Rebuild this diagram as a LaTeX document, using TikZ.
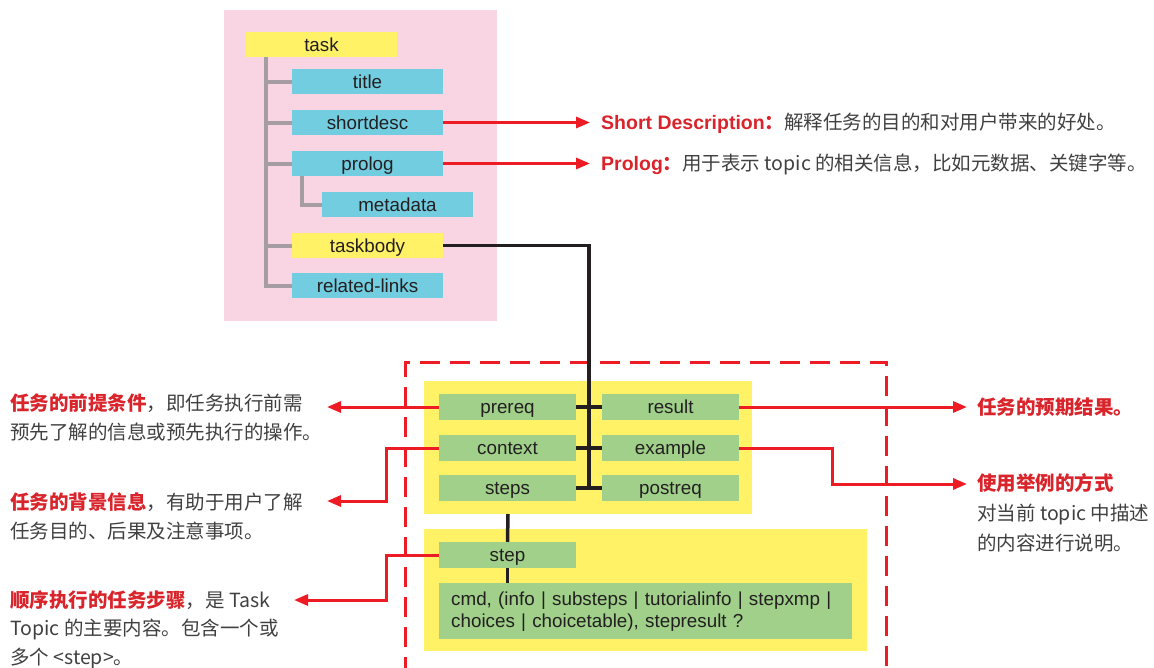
\documentclass[tikz,border=0pt]{standalone}
\usepackage{fontspec}
\setmainfont{Liberation Sans}
\newfontfamily\cjk{Noto Sans CJK SC}
\usetikzlibrary{arrows.meta}
\definecolor{pinkbg}{RGB}{249,213,228}
\definecolor{yelbox}{RGB}{255,242,102}
\definecolor{cyanbox}{RGB}{114,205,224}
\definecolor{greenbox}{RGB}{160,208,138}
\definecolor{treegray}{RGB}{166,156,164}
\definecolor{redline}{RGB}{237,28,36}
\definecolor{redtxt}{RGB}{217,36,43}
\definecolor{graytxt}{RGB}{64,64,64}
\definecolor{blk}{RGB}{35,31,32}
\begin{document}
\begin{tikzpicture}[x=1pt,y=-1pt,
  lbl/.style={inner sep=0pt, text=blk, font=\fontsize{18.8}{22}\selectfont},
  tbox/.style={lbl, minimum width=151pt, minimum height=25pt, text height=17pt, text depth=4pt},
  gbox/.style={lbl, fill=greenbox, minimum width=137pt, minimum height=26pt, text height=17pt, text depth=4pt},
  treeline/.style={draw=treegray, line width=4pt},
  blkline/.style={draw=blk, line width=3.5pt},
  redarrow/.style={draw=redline, line width=3pt, -{Triangle[length=14pt,width=11pt]}},
  note/.style={anchor=base west, inner sep=0pt, text=graytxt, font=\cjk\fontsize{19.5}{24}\selectfont},
  latinhl/.style={anchor=base west, inner sep=0pt, text=redtxt, font=\bfseries\fontsize{19.5}{24}\selectfont}
]
\useasboundingbox (0,0) rectangle (1154,667);
% pink background
\fill[pinkbg] (224,10) rectangle (497,321);
% tree nodes
\node[tbox, fill=yelbox]  (task)      at (321.5,44.5)  {task};
\node[tbox, fill=cyanbox] (title)     at (367.5,81.5)  {title};
\node[tbox, fill=cyanbox] (shortdesc) at (367.5,122.5) {shortdesc};
\node[tbox, fill=cyanbox] (prolog)    at (367.5,163.5) {prolog};
\node[tbox, fill=cyanbox] (metadata)  at (397.5,204.5) {metadata};
\node[tbox, fill=yelbox]  (taskbody)  at (367.5,245.5) {taskbody};
\node[tbox, fill=cyanbox] (related)   at (367.5,285.5) {related-links};
% tree lines
\draw[treeline] ([xshift=20pt]task.south west) |- (related.west);
\foreach \n in {title,shortdesc,prolog,taskbody}
  \draw[treeline] (\n.west) -- ++(-26,0);
\draw[treeline] ([xshift=10pt]prolog.south west) |- (metadata.west);
% dashed region
\draw[draw=redline, line width=3pt, dash pattern=on 20pt off 10pt, dash phase=5pt]
  (405,672) -- (405,362) -- (886,362) -- (886,672);
% group boxes
\fill[yelbox] (424,381) rectangle (752,514);
\coordinate (grp1s) at (508,514);
\fill[yelbox] (424,529) rectangle (867,651);
% taskbody content
\node[gbox] (prereq)  at (507.5,407) {prereq};
\node[gbox] (result)  at (670.5,407) {result};
\node[gbox] (context) at (507.5,448) {context};
\node[gbox] (example) at (670.5,448) {example};
\node[gbox] (steps)   at (507.5,488) {steps};
\node[gbox] (postreq) at (670.5,488) {postreq};
\node[gbox] (step)    at (507.5,555) {step};
\node[lbl, fill=greenbox, minimum width=413pt, minimum height=56pt, text width=389pt,
      inner xsep=12pt, align=left, anchor=north west] (cmd) at (439,583)
  {cmd, (info | substeps | tutorialinfo | stepxmp |\\ choices | choicetable), stepresult ?};
% black connectors
\coordinate (junc) at (589,488);
\draw[blkline] (taskbody.east) -| (junc);
\draw[blkline] (prereq.east) -- (result.west);
\draw[blkline] (context.east) -- (example.west);
\draw[blkline] (steps.east) -- (postreq.west);
\draw[blkline] (grp1s) -- (step.north);
\draw[blkline] (step.south) -- (cmd.north -| step.south);
% red arrows top
\coordinate (sdend) at (590,122.5);
\coordinate (plend) at (590,163.5);
\draw[redarrow] (shortdesc.east) -- (sdend);
\draw[redarrow] (prolog.east) -- (plend);
\node[latinhl] (sdlabel) at (601,129.5) {Short Description{\cjk：}\textcolor{graytxt}{\mdseries\cjk 解释任务的目的和对用户带来的好处。}};
\node[latinhl] (pllabel) at (601,170.5) {Prolog{\cjk：}\textcolor{graytxt}{\mdseries\cjk 用于表示 topic 的相关信息，比如元数据、关键字等。}};
% left arrows
\coordinate (prend) at (327,407);
\coordinate (ctbend) at (386,501);
\coordinate (ctend) at (327,501);
\coordinate (stbend) at (386,600);
\coordinate (stend) at (294,600);
\draw[redarrow] (prereq.west) -- (prend);
\draw[redarrow] (context.west) -| (ctbend) -- (ctend);
\draw[redarrow] (step.west) -| (stbend) -- (stend);
% right arrows
\coordinate (rsend) at (967,407);
\coordinate (exbend) at (832,484);
\coordinate (exend) at (967,484);
\draw[redarrow] (result.east) -- (rsend);
\draw[redarrow] (example.east) -| (exbend) -- (exend);
% left notes
\node[note] (n1a) at (10,410) {{\bfseries\color{redtxt}任务的前提条件}，即任务执行前需};
\node[note] (n1b) at (10,439.5) {预先了解的信息或预先执行的操作。};
\node[note] (n2a) at (10,509) {{\bfseries\color{redtxt}任务的背景信息}，有助于用户了解};
\node[note] (n2b) at (10,538.5) {任务目的、后果及注意事项。};
\node[note] (n3a) at (10,607) {{\bfseries\color{redtxt}顺序执行的任务步骤}，是 Task};
\node[note] (n3b) at (10,635.5) {Topic 的主要内容。包含一个或};
\node[note] (n3c) at (10,664) {多个 <step>。};
% right notes
\node[note] (r1) at (977,414) {{\bfseries\color{redtxt}任务的预期结果。}};
\node[note] (r2a) at (977,490.5) {{\bfseries\color{redtxt}使用举例的方式}};
\node[note] (r2b) at (977,520) {对当前 topic 中描述};
\node[note] (r2c) at (977,550) {的内容进行说明。};
\end{tikzpicture}
\end{document}
